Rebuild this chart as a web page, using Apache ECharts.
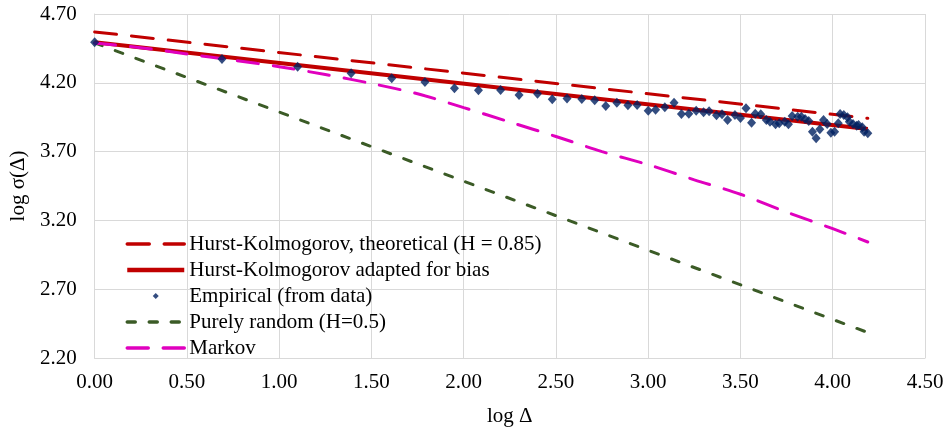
<!DOCTYPE html>
<html>
<head>
<meta charset="utf-8">
<script src="https://cdn.jsdelivr.net/npm/echarts@6/dist/echarts.min.js"></script>
<style>
html,body{margin:0;padding:0;background:#fff;}
#chart{width:948px;height:432px;}
</style>
</head>
<body>
<div id="chart"></div>
<script>
// Names
const seriesNames = [
  'Hurst-Kolmogorov, theoretical (H = 0.85)',
  'Hurst-Kolmogorov adapted for bias',
  'Empirical (from data)',
  'Purely random (H=0.5)',
  'Markov'
];
// Empirical points: x = log Δ, y = log σ(Δ)
const empX = [0.00,0.69,1.10,1.39,1.61,1.79,1.95,2.08,2.20,2.30,2.40,2.48,2.56,2.64,2.71,2.77,2.83,2.89,2.94,3.00,3.04,3.09,3.14,3.18,3.22,3.26,3.30,3.33,3.37,3.40,3.43,3.47,3.50,3.53,3.56,3.58,3.61,3.64,3.66,3.69,3.71,3.74,3.76,3.78,3.81,3.83,3.85,3.87,3.89,3.91,3.93,3.95,3.97,3.99,4.01,4.03,4.04,4.06,4.08,4.09,4.11,4.13,4.14,4.16,4.17,4.19];
const empY = [4.494,4.373,4.317,4.269,4.233,4.206,4.160,4.146,4.148,4.111,4.121,4.080,4.085,4.082,4.073,4.031,4.055,4.036,4.039,3.997,4.005,4.022,4.055,3.973,3.975,3.997,3.986,3.993,3.964,3.971,3.930,3.966,3.944,4.015,3.910,3.975,3.971,3.930,3.917,3.898,3.906,3.917,3.898,3.959,3.954,3.954,3.937,3.922,3.845,3.797,3.862,3.930,3.901,3.837,3.845,3.906,3.973,3.966,3.949,3.917,3.901,3.888,3.893,3.877,3.845,3.833];
// Theoretical lines
const hkTheoX = [0.00, 4.19];
const hkTheoY = [4.570, 3.942];
const hkBiasX = [0.00, 4.19];
const hkBiasY = [4.494, 3.865];
const randX = [0.00, 4.19];
const randY = [4.490, 2.385];
const markovX = [0.00,0.25,0.50,0.75,1.00,1.25,1.50,1.75,2.00,2.25,2.50,2.75,3.00,3.25,3.50,3.75,4.00,4.19];
const markovY = [4.490,4.455,4.410,4.365,4.317,4.260,4.195,4.120,4.020,3.915,3.810,3.700,3.605,3.495,3.390,3.260,3.140,3.043];
// Axis ticks
const xTicks = {min: 0, max: 4.5, interval: 0.5};
const yTicks = {min: 2.2, max: 4.7, interval: 0.5};

const pair = (xs, ys) => xs.map((x, i) => [x, ys[i]]);
const font = '"Liberation Serif", "Times New Roman", serif';
const FS = 21;
const hideSym = {color: 'rgba(0,0,0,0)', borderColor: 'rgba(0,0,0,0)', borderWidth: 0};

const chart = echarts.init(document.getElementById('chart'), null, {renderer: 'canvas'});
chart.setOption({
  animation: false,
  backgroundColor: '#fff',
  textStyle: {fontFamily: font},
  grid: {left: 93, right: 23, top: 14, bottom: 74, containLabel: false},
  xAxis: {
    type: 'value', min: xTicks.min, max: xTicks.max, interval: xTicks.interval,
    name: 'log Δ', nameLocation: 'middle', nameGap: 48,
    nameTextStyle: {fontFamily: font, fontSize: FS, color: '#000'},
    axisLine: {show: true, lineStyle: {color: '#D9D9D9', width: 1}},
    axisTick: {show: false},
    axisLabel: {fontFamily: font, fontSize: FS, color: '#000', margin: 14, formatter: v => v.toFixed(2)},
    splitLine: {show: true, lineStyle: {color: '#D9D9D9', width: 1}}
  },
  yAxis: {
    type: 'value', min: yTicks.min, max: yTicks.max, interval: yTicks.interval,
    name: 'log σ(Δ)', nameLocation: 'middle', nameGap: 58, nameRotate: 90,
    nameTextStyle: {fontFamily: font, fontSize: FS, color: '#000'},
    axisLine: {show: true, lineStyle: {color: '#D9D9D9', width: 1}},
    axisTick: {show: false},
    axisLabel: {fontFamily: font, fontSize: FS, color: '#000', margin: 18, formatter: v => v.toFixed(2)},
    splitLine: {show: true, lineStyle: {color: '#D9D9D9', width: 1}}
  },
  legend: {
    orient: 'vertical', left: 120, top: 228,
    itemWidth: 57, itemHeight: 8, itemGap: 4,
    textStyle: {fontFamily: font, fontSize: FS, color: '#000', lineHeight: 22},
    data: [
      {name: seriesNames[0], itemStyle: hideSym, lineStyle: {width: 3.5}},
      {name: seriesNames[1], itemStyle: hideSym, lineStyle: {width: 4.5}},
      {name: seriesNames[2], icon: 'path://M0,0 M57,8 M28.5,1 L31.5,4 L28.5,7 L25.5,4 Z'},
      {name: seriesNames[3], itemStyle: hideSym, lineStyle: {width: 3.5}},
      {name: seriesNames[4], itemStyle: hideSym, lineStyle: {width: 3.5}}
    ]
  },
  series: [
    {
      name: seriesNames[0], type: 'line', data: pair(hkTheoX, hkTheoY),
      showSymbol: false, symbol: 'none', z: 2,
      lineStyle: {color: '#C00000', width: 3, type: [22, 15], cap: 'round'},
      itemStyle: {color: '#C00000'}
    },
    {
      name: seriesNames[1], type: 'line', data: pair(hkBiasX, hkBiasY),
      showSymbol: false, symbol: 'none', z: 3,
      lineStyle: {color: '#C00000', width: 4},
      itemStyle: {color: '#C00000'}
    },
    {
      name: seriesNames[3], type: 'line', data: pair(randX, randY),
      showSymbol: false, symbol: 'none', z: 2,
      lineStyle: {color: '#3B5B26', width: 3, type: [8, 14], cap: 'round'},
      itemStyle: {color: '#3B5B26'}
    },
    {
      name: seriesNames[4], type: 'line', data: pair(markovX, markovY),
      showSymbol: false, symbol: 'none', z: 4, smooth: 0.3,
      lineStyle: {color: '#E000BE', width: 3, type: [21, 15], cap: 'round'},
      itemStyle: {color: '#E000BE'}
    },
    {
      name: seriesNames[2], type: 'scatter', data: pair(empX, empY),
      symbol: 'diamond', symbolSize: [9, 10], z: 5,
      itemStyle: {color: '#002060'}
    }
  ]
});
</script>
</body>
</html>
